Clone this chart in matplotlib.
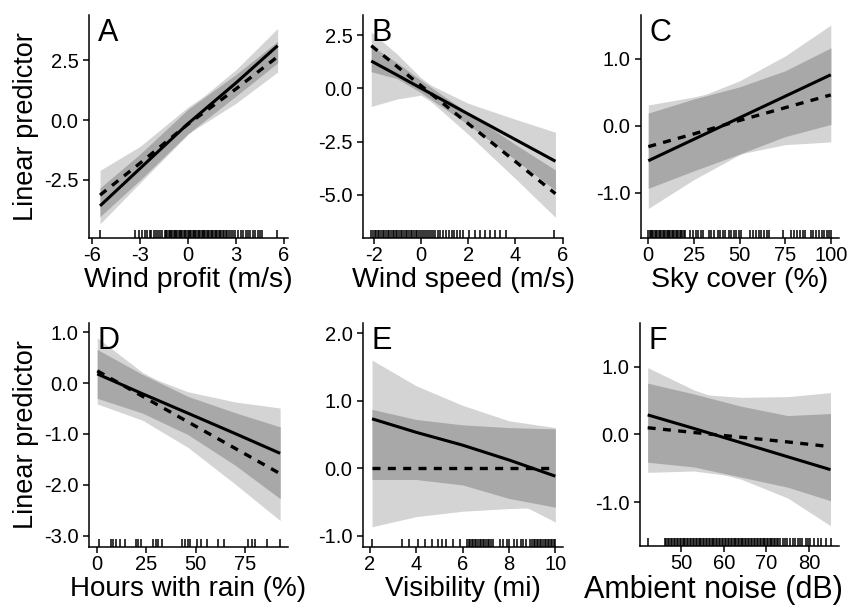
import numpy as np
import matplotlib
matplotlib.use("Agg")
import matplotlib.pyplot as plt

plt.rcParams['font.family'] = ['Liberation Sans', 'DejaVu Sans']
plt.rcParams['axes.unicode_minus'] = False

LIGHT = '#d4d4d4'
DARK = '#a8a8a8'

# ---- panel A: wind profit
a_x = [-5.5, -3, 0, 3, 5.6]
a_solid = [-3.58, -2.02, -0.15, 1.55, 3.10]
a_dash = [-3.13, -1.80, -0.17, 1.30, 2.64]
a_solid_lo = [-4.33, -2.62, -0.60, 1.00, 2.38]
a_solid_hi = [-2.83, -1.42, 0.45, 2.10, 3.82]
a_dash_lo = [-4.03, -2.50, -0.57, 0.70, 2.00]
a_dash_hi = [-2.10, -1.10, 0.54, 1.90, 3.28]
a_rug = [-5.5, -3.3, -3.05, -2.85, -2.7, -2.55, -2.4, -2.3, -2.15, -2.0, -1.9, -1.75, -1.6,
         -1.45, -1.37, -1.3, -1.22, -1.14, -1.05, -0.98, -0.9, -0.82, -0.74, -0.66, -0.58,
         -0.5, -0.42, -0.35, -0.27, -0.19, -0.11, -0.03, 0.05, 0.13, 0.21, 0.29, 0.37, 0.45,
         0.53, 0.61, 0.69, 0.77, 0.85, 0.93, 1.01, 1.09, 1.17, 1.25, 1.33, 1.41, 1.5, 1.58,
         1.66, 1.74, 1.83, 1.91, 1.99, 2.08, 2.17, 2.26, 2.36, 2.46, 2.57, 2.68, 2.8, 2.92,
         3.1, 3.3, 3.45, 3.6, 3.75, 3.9, 4.05, 4.2, 4.35, 4.5, 4.65, 5.55]

# ---- panel B: wind speed
b_x = [-2.1, -1, 0, 2, 4, 5.7]
b_solid = [1.28, 0.62, 0.01, -1.20, -2.40, -3.42]
b_dash = [2.00, 1.02, 0.13, -1.65, -3.43, -4.94]
b_solid_lo = [-0.85, -0.50, -0.32, -1.70, -3.35, -4.78]
b_solid_hi = [2.00, 1.20, 0.38, -0.70, -1.45, -2.06]
b_dash_lo = [0.78, 0.45, -0.20, -2.15, -4.23, -6.05]
b_dash_hi = [2.65, 1.60, 0.50, -1.15, -2.63, -3.83]
b_rug = [-2.1, -2.03, -1.96, -1.9, -1.83, -1.76, -1.69, -1.62, -1.55, -1.48, -1.41, -1.34,
         -1.27, -1.2, -1.13, -1.06, -0.99, -0.92, -0.85, -0.78, -0.71, -0.64, -0.57, -0.5,
         -0.43, -0.36, -0.29, -0.22, -0.15, -0.08, 0.0, 0.08, 0.16, 0.25, 0.33, 0.42, 0.5,
         0.6, 0.72, 0.83, 0.95, 1.05, 1.18, 1.3, 1.4, 1.52, 1.65, 1.78, 2.02, 2.3, 2.52,
         2.73, 2.94, 3.15, 3.36, 3.62, 5.65]

# ---- panel C: sky cover
c_x = [0, 25, 50, 75, 100]
c_solid = [-0.52, -0.20, 0.12, 0.44, 0.76]
c_dash = [-0.31, -0.12, 0.08, 0.27, 0.46]
c_solid_lo = [-1.23, -0.80, -0.43, -0.16, 0.02]
c_solid_hi = [0.19, 0.40, 0.67, 1.04, 1.50]
c_dash_lo = [-0.93, -0.67, -0.42, -0.28, -0.24]
c_dash_hi = [0.31, 0.43, 0.58, 0.82, 1.16]
c_rug = [0, 0.7, 1.4, 2.1, 2.8, 3.5, 4.2, 5.0, 5.7, 6.4, 7.1, 7.8, 8.6, 9.3, 10.0, 10.7,
         11.4, 12.1, 12.9, 13.6, 14.3, 15.0, 15.7, 16.4, 17.1, 17.9, 18.6, 19.3, 20.0,
         23, 24.5, 26, 27.5, 29, 30, 33, 34.5, 36, 38, 39.5, 41, 42, 44, 45.5, 47, 48,
         49.5, 51, 56, 57.5, 59, 60.5, 62, 63.5, 65, 66, 74, 78, 80, 81.5, 83, 85, 86,
         89, 90.5, 92, 93.5, 95, 96.5, 98, 99, 100]

# ---- panel D: hours with rain
d_x = [0, 23, 46, 70, 93]
d_solid = [0.18, -0.21, -0.59, -0.99, -1.38]
d_dash = [0.24, -0.26, -0.76, -1.28, -1.78]
d_solid_lo = [-0.30, -0.59, -1.01, -1.61, -2.27]
d_solid_hi = [0.66, 0.17, -0.17, -0.37, -0.49]
d_dash_lo = [-0.41, -0.73, -1.26, -1.98, -2.70]
d_dash_hi = [0.89, 0.21, -0.26, -0.58, -0.86]
d_rug = [0.7, 7.1, 8.0, 9.7, 11.4, 13.9, 19.9, 20.7, 22.4, 28.4, 29.8, 31.0, 33.0, 42.9,
         44.6, 46.3, 47.4, 50.5, 53.0, 55.6, 61.6, 64.5, 76.9, 78.6, 80.3, 86.2, 92.7]

# ---- panel E: visibility
e_x = [2.1, 4, 6, 8, 10]
e_solid = [0.73, 0.53, 0.34, 0.12, -0.12]
e_dash = [0, 0, 0, 0, 0]
e_solid_lo = [-0.17, -0.17, -0.25, -0.45, -0.80]
e_solid_hi = [1.60, 1.22, 0.93, 0.70, 0.60]
e_dash_lo = [-0.87, -0.72, -0.64, -0.60, -0.58]
e_dash_hi = [0.87, 0.72, 0.64, 0.60, 0.58]
e_rug = [2.1, 3.4, 3.7, 4.1, 4.4, 4.7, 4.95, 5.1, 5.3, 5.6, 5.9, 6.2, 6.26, 6.33, 6.4,
         6.46, 6.52, 6.6, 6.67, 6.74, 6.8, 6.87, 6.94, 7.0, 7.08, 7.16, 7.24, 7.3, 7.6,
         7.75, 7.9, 8.0, 8.2, 8.35, 8.5, 8.6, 8.75, 8.9, 9.0, 9.07, 9.14, 9.2, 9.27, 9.34,
         9.4, 9.47, 9.54, 9.6, 9.67, 9.74, 9.8, 9.87, 9.94, 10.0]

# ---- panel F: ambient noise
f_x = [42.2, 53, 64, 75, 85]
f_solid = [0.29, 0.09, -0.12, -0.33, -0.52]
f_dash = [0.10, 0.03, -0.04, -0.11, -0.18]
f_solid_lo = [-0.41, -0.48, -0.66, -0.94, -1.35]
f_solid_hi = [0.99, 0.66, 0.42, 0.28, 0.31]
f_dash_lo = [-0.56, -0.54, -0.63, -0.78, -0.98]
f_dash_hi = [0.76, 0.60, 0.55, 0.56, 0.62]
f_rug = [42.2, 46.3, 46.6, 47.0, 47.3, 47.6, 48.0, 48.3, 48.7, 49.0, 49.3, 49.7, 50.0, 50.4,
         50.7, 51.0, 51.4, 51.7, 52.1, 52.4, 52.7, 53.1, 53.4, 53.8, 54.1, 54.4, 54.8, 55.1,
         55.5, 55.8, 56.1, 56.5, 56.8, 57.2, 57.5, 57.8, 58.2, 58.5, 58.9, 59.2, 59.5, 59.9,
         60.2, 60.6, 60.9, 61.2, 61.6, 61.9, 62.3, 62.6, 62.9, 63.3, 63.6, 64.0, 64.3, 64.6,
         65.0, 65.3, 65.7, 66.0, 66.3, 66.7, 67.0, 67.4, 67.7, 68.0, 68.4, 68.7, 69.1, 69.4,
         69.7, 70.1, 70.4, 70.8, 71.1, 71.4, 71.8, 72.1, 72.5, 72.8, 73.3, 73.9, 74.4, 74.9,
         75.6, 76.2, 76.6, 77.3, 77.9, 78.4, 79.2, 79.8, 80.3, 81.2, 82.0, 82.9, 84.0, 85.2]

panels = [
    dict(letter='A', x=a_x, s=a_solid, d=a_dash, slo=a_solid_lo, shi=a_solid_hi,
         dlo=a_dash_lo, dhi=a_dash_hi, rug=a_rug, xlabel='Wind profit (m/s)',
         xticks=[-6, -3, 0, 3, 6], yticks=[-2.5, 0, 2.5], xlim=(-6.19, 6.25), ylim=(-4.92, 4.38),
         px=(89, 15, 288, 238), xl=(0.5, 20.5)),
    dict(letter='B', x=b_x, s=b_solid, d=b_dash, slo=b_solid_lo, shi=b_solid_hi,
         dlo=b_dash_lo, dhi=b_dash_hi, rug=b_rug, xlabel='Wind speed (m/s)',
         xticks=[-2, 0, 2, 4, 6], yticks=[-5, -2.5, 0, 2.5], xlim=(-2.45, 6.02), ylim=(-7.02, 3.44),
         px=(363, 15, 563, 238), xl=(0.5, 20.5)),
    dict(letter='C', x=c_x, s=c_solid, d=c_dash, slo=c_solid_lo, shi=c_solid_hi,
         dlo=c_dash_lo, dhi=c_dash_hi, rug=c_rug, xlabel='Sky cover (%)',
         xticks=[0, 25, 50, 75, 100], yticks=[-1, 0, 1], xlim=(-4, 104.5), ylim=(-1.67, 1.65),
         px=(641, 15, 839, 238), xl=(0.5, 20.5)),
    dict(letter='D', x=d_x, s=d_solid, d=d_dash, slo=d_solid_lo, shi=d_solid_hi,
         dlo=d_dash_lo, dhi=d_dash_hi, rug=d_rug, xlabel='Hours with rain (%)',
         xticks=[0, 25, 50, 75], yticks=[-3, -2, -1, 0, 1], xlim=(-4.2, 97), ylim=(-3.22, 1.18),
         px=(89, 323, 288, 547), xl=(0.5, 20)),
    dict(letter='E', x=e_x, s=e_solid, d=e_dash, slo=e_solid_lo, shi=e_solid_hi,
         dlo=e_dash_lo, dhi=e_dash_hi, rug=e_rug, xlabel='Visibility (mi)',
         xticks=[2, 4, 6, 8, 10], yticks=[-1, 0, 1, 2], xlim=(1.71, 10.33), ylim=(-1.17, 2.15),
         px=(363, 323, 563, 547), xl=(0.5, 20)),
    dict(letter='F', x=f_x, s=f_solid, d=f_dash, slo=f_solid_lo, shi=f_solid_hi,
         dlo=f_dash_lo, dhi=f_dash_hi, rug=f_rug, xlabel='Ambient noise (dB)',
         xticks=[50, 60, 70, 80], yticks=[-1, 0, 1], xlim=(40.4, 87.0), ylim=(-1.65, 1.65),
         px=(640, 323, 839, 546), xl=(0.37, 22)),
]

W, H = 856, 605
fig = plt.figure(figsize=(W / 100, H / 100), dpi=100)

for i, p in enumerate(panels):
    l, t, r, b = p['px']
    ax = fig.add_axes([l / W, 1 - b / H, (r - l) / W, (b - t) / H])

    x = np.array(p['x'])
    slo, shi = np.array(p['slo']), np.array(p['shi'])
    dlo, dhi = np.array(p['dlo']), np.array(p['dhi'])
    # each band light, where they overlap darker
    ax.fill_between(x, slo, shi, color=LIGHT, lw=0, zorder=1)
    ax.fill_between(x, dlo, dhi, color=LIGHT, lw=0, zorder=1)
    lo = np.maximum(slo, dlo)
    hi = np.minimum(shi, dhi)
    ax.fill_between(x, lo, hi, where=hi > lo, interpolate=True, color=DARK, lw=0, zorder=2)

    ax.plot(x, p['s'], color='black', lw=2.2, solid_capstyle='butt', zorder=4)
    ax.plot(x, p['d'], color='black', lw=2.4, linestyle=(0, (2.4, 2.2)), zorder=4)

    ax.vlines(p['rug'], 0, 0.034, transform=ax.get_xaxis_transform(), color='black',
              lw=1.1, zorder=3)

    ax.set_xlim(*p['xlim'])
    ax.set_ylim(*p['ylim'])
    ax.set_xticks(p['xticks'])
    ax.set_xticklabels([str(v) for v in p['xticks']])
    ax.set_yticks(p['yticks'])
    ax.set_yticklabels(['%.1f' % v for v in p['yticks']])

    for side in ['top', 'right']:
        ax.spines[side].set_visible(False)
    for side in ['left', 'bottom']:
        ax.spines[side].set_linewidth(1.1)
    ax.tick_params(axis='both', direction='out', length=4.5, width=1.1, labelsize=14.5,
                   colors='black')
    ax.tick_params(axis='x', pad=1.5)
    ax.tick_params(axis='y', pad=3)
    ax.patch.set_alpha(0)

    xl_pos, xl_size = p['xl']
    ax.set_xlabel(p['xlabel'], fontsize=xl_size)
    ax.xaxis.set_label_coords(xl_pos, -0.13)
    if i % 3 == 0:
        ax.set_ylabel('Linear predictor', fontsize=19.5)
        ax.yaxis.set_label_coords(-0.25, 0.5)

    ax.text(0.045, 0.883, p['letter'], transform=ax.transAxes, fontsize=22,
            ha='left', va='baseline', zorder=5)

fig.savefig('out.png', dpi=100)
